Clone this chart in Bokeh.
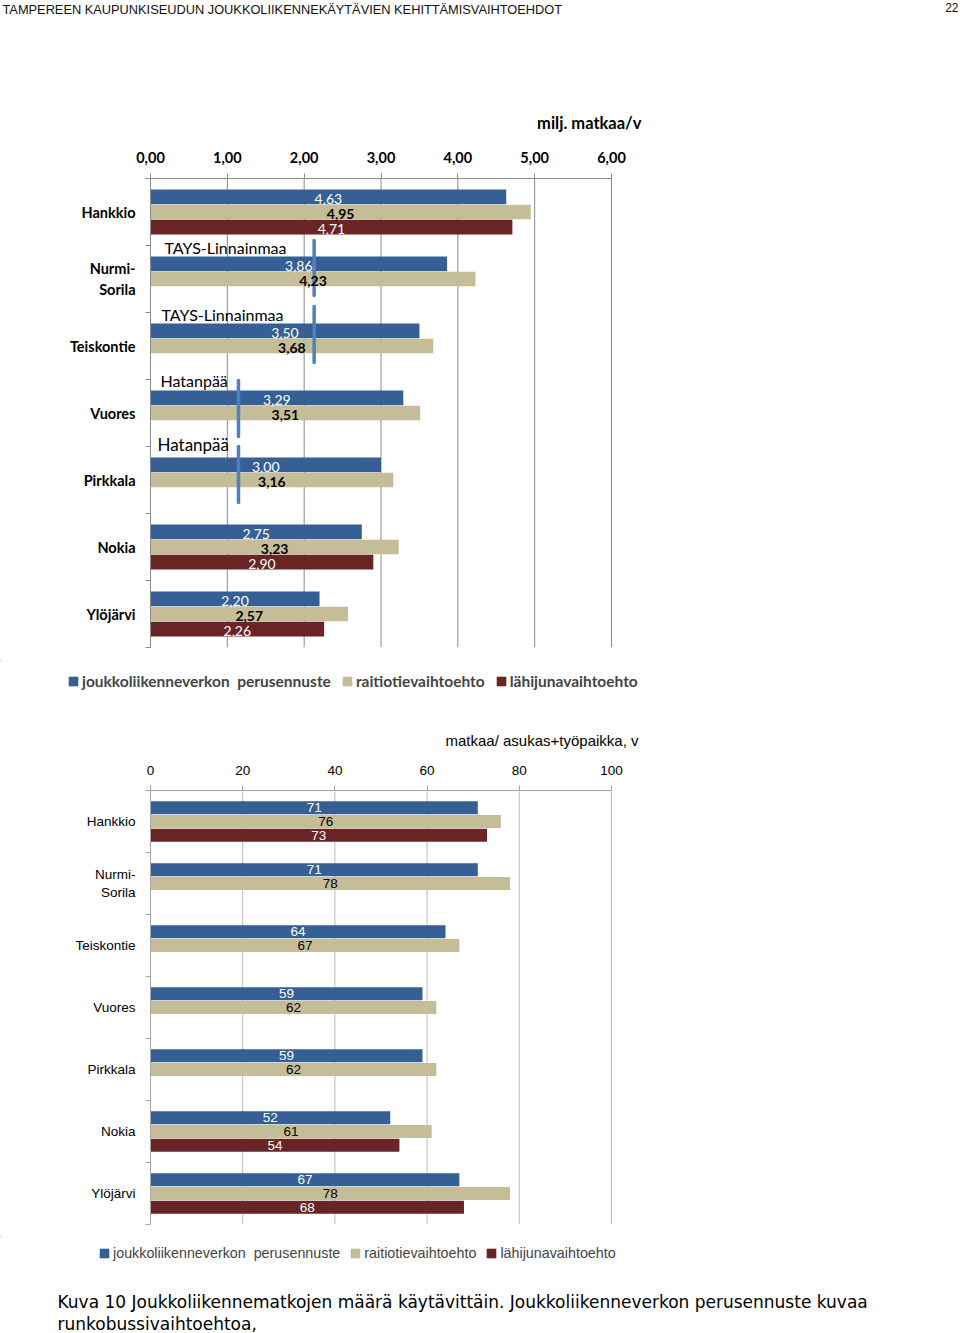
import numpy as np
from bokeh.plotting import figure
from bokeh.models import (ColumnDataSource, Range1d, FixedTicker, Label, LabelSet,
                          Legend, LegendItem)
from bokeh.layouts import column
from bokeh.embed import file_html
from bokeh.resources import INLINE
from bokeh.core.properties import value

# ---------------- data ----------------
categories = ["Hankkio", "Nurmi-Sorila", "Teiskontie", "Vuores", "Pirkkala", "Nokia", "Ylöjärvi"]
category_labels = ["Hankkio", "Nurmi-\nSorila", "Teiskontie", "Vuores", "Pirkkala", "Nokia", "Ylöjärvi"]
series_names = ["joukkoliikenneverkon  perusennuste", "raitiotievaihtoehto", "lähijunavaihtoehto"]

# million trips / year
trips_base = [4.63, 3.86, 3.50, 3.29, 3.00, 2.75, 2.20]
trips_tram = [4.95, 4.23, 3.68, 3.51, 3.16, 3.23, 2.57]
trips_train = [4.71, None, None, None, None, 2.90, 2.26]

# trips / (inhabitant + workplace) / year
rate_base = [71, 71, 64, 59, 59, 52, 67]
rate_tram = [76, 78, 67, 62, 62, 61, 78]
rate_train = [73, None, None, None, None, 54, 68]

top_ticks = [0, 1, 2, 3, 4, 5, 6]
top_tick_labels = ["0,00", "1,00", "2,00", "3,00", "4,00", "5,00", "6,00"]
bottom_ticks = [0, 20, 40, 60, 80, 100]
bottom_tick_labels = ["0", "20", "40", "60", "80", "100"]

marker_text = ["TAYS-Linnainmaa", "TAYS-Linnainmaa", "Hatanpää", "Hatanpää"]
marker_category = ["Nurmi-Sorila", "Teiskontie", "Vuores", "Pirkkala"]
marker_value = [2.13, 2.13, 1.145, 1.145]

header_text = "TAMPEREEN KAUPUNKISEUDUN JOUKKOLIIKENNEKÄYTÄVIEN KEHITTÄMISVAIHTOEHDOT"
page_number = "22"
top_unit = "milj. matkaa/v"
bottom_unit = "matkaa/ asukas+työpaikka, v"
caption_lines = ["Kuva 10 Joukkoliikennematkojen määrä käytävittäin. Joukkoliikenneverkon perusennuste kuvaa",
                 "runkobussivaihtoehtoa,"]

# ---------------- style ----------------
COL_BASE = "#365f95"
COL_TRAM = "#c5bd98"
COL_TRAIN = "#692426"
COLORS = [COL_BASE, COL_TRAM, COL_TRAIN]
COL_MARK = "#4f81bd"
W = 960
N = len(categories)
centers = [N - i - 0.5 for i in range(N)]
bounds = list(range(N + 1))


def fmt_comma(v):
    return f"{v:.2f}".replace(".", ",")


def no_align(f):
    try:
        f.frame_align = False
    except Exception:
        pass
    return f


def text_fig(height):
    """A strip whose frame covers the whole canvas; coordinates are pixels."""
    f = figure(width=W, height=height, output_backend="svg", toolbar_location=None,
               x_range=Range1d(0, W), y_range=Range1d(height, 0), min_border=0,
               x_axis_type=None, y_axis_type=None)
    f.outline_line_color = None
    f.xgrid.grid_line_color = None
    f.ygrid.grid_line_color = None
    return no_align(f)


def add_text(f, x, y, text, font, size, align="left", bold=False, color="black"):
    f.add_layout(Label(x=x, y=y, text=text, text_font=font, text_font_size=f"{size}px",
                       text_align=align, text_baseline="middle", text_color=color,
                       text_font_style="bold" if bold else "normal"))


def add_legend(f, height, x, yc, font, size, bold, spacing):
    # legend keys: one bar per series placed outside the visible strip
    rs = [f.hbar(y=[-10000], right=[1], left=0, height=1, fill_color=c, line_color=None)
          for c in COLORS]
    h = 1.2 * size
    leg = Legend(items=[LegendItem(label=n, renderers=[r]) for n, r in zip(series_names, rs)],
                 orientation="horizontal", location=(x, height - yc - h / 2),
                 glyph_width=12, glyph_height=12, label_standoff=3, spacing=spacing,
                 padding=0, margin=0, border_line_color=None, background_fill_alpha=0,
                 label_text_font=font, label_text_font_style="bold" if bold else "normal",
                 label_text_font_size=f"{size}px", label_height=10)
    f.add_layout(leg)


def make_chart(height, xmax, xend, border, ticks, tick_labels, font, cat_size, cat_bold,
               tick_size, tick_bold, grid_color, axis_color, values, offset, bar_h,
               label_fmt, label_size, label_dy, tram_bold):
    p = figure(width=W, height=height, output_backend="svg", toolbar_location=None,
               x_range=Range1d(0, xend), y_range=Range1d(0, N),
               x_axis_location="above", min_border_left=border[0],
               min_border_right=border[1], min_border_top=border[2],
               min_border_bottom=border[3])
    no_align(p)
    p.outline_line_color = None
    p.xgrid.grid_line_color = None
    p.ygrid.grid_line_color = None
    # x axis (top)
    xa = p.xaxis[0]
    xa.ticker = FixedTicker(ticks=ticks, minor_ticks=[])
    xa.major_label_overrides = {t: l for t, l in zip(ticks, tick_labels)}
    xa.bounds = (0, xmax)
    xa.axis_line_color = axis_color
    xa.major_tick_line_color = axis_color
    xa.major_tick_out = 5
    xa.major_tick_in = 0
    xa.major_label_standoff = 11
    xa.major_label_text_font = font
    xa.major_label_text_font_size = f"{tick_size}px"
    xa.major_label_text_font_style = "bold" if tick_bold else "normal"
    xa.major_label_text_color = "black"
    # vertical grid lines at the ticks
    p.segment(x0=ticks, y0=[0] * len(ticks), x1=ticks, y1=[N] * len(ticks),
              line_color=grid_color, line_width=1)
    # y axis (categories, ticks on band boundaries)
    ya = p.yaxis[0]
    ya.ticker = FixedTicker(ticks=centers, minor_ticks=bounds)
    ya.major_label_overrides = {c: l for c, l in zip(centers, category_labels)}
    ya.axis_line_color = axis_color
    ya.major_tick_line_color = None
    ya.major_tick_out = 0
    ya.major_tick_in = 0
    ya.minor_tick_line_color = axis_color
    ya.minor_tick_out = 5
    ya.minor_tick_in = 0
    ya.major_label_standoff = 10
    ya.major_label_text_font = font
    ya.major_label_text_font_size = f"{cat_size}px"
    ya.major_label_text_font_style = "bold" if cat_bold else "normal"
    ya.major_label_text_color = "black"

    for k, (vals, col, txtcol) in enumerate(zip(values, COLORS, ["white", "black", "white"])):
        ys, xs, labs = [], [], []
        for i, v in enumerate(vals):
            if v is None:
                continue
            ys.append(centers[i] + offset * (1 - k))
            xs.append(v)
            labs.append(label_fmt(v))
        src = ColumnDataSource(dict(y=ys, right=xs, mid=[x / 2 for x in xs],
                                    ylab=[y - label_dy for y in ys], lab=labs))
        p.hbar(y="y", left=0, right="right", height=bar_h, source=src,
               fill_color=col, line_color=None)
        p.add_layout(LabelSet(x="mid", y="ylab", text="lab", source=src, text_align="center",
                              text_baseline="middle", text_color=txtcol,
                              text_font=value(font), text_font_size=value(f"{label_size}px"),
                              text_font_style="bold" if (k == 1 and tram_bold) else "normal"))
    return p


# ---------------- header strip (page y 0..140) ----------------
fA = text_fig(140)
add_text(fA, 2, 9, header_text, "Liberation Sans", 12.8, color="#111111")
add_text(fA, 958, 7, page_number, "Liberation Sans", 12, align="right", color="#111111")
add_text(fA, 641, 122, top_unit, "Lato", 16.5, align="right", bold=True)

# ---------------- top chart (page y 140..660) ----------------
ux1 = 461 / 6.0
p1 = make_chart(520, 6, 6 + 9 / ux1, (150, 340, 38, 13), top_ticks, top_tick_labels, "Lato",
                14.5, True, 14.5, True, "#8a8a8a", "#8a8a8a",
                [trips_base, trips_tram, trips_train], 0.226, 0.218,
                fmt_comma, 14, 2 / 67, True)

# route markers (thin blue bars with route names)
marker_span = [(0.575, -0.246), (0.59, -0.246), (0.485, -0.35), (0.50, -0.336)]
marker_text_pos = [(164, 0.47, 16), (161, 0.47, 16), (160, 0.485, 16), (157, 0.53, 17)]
for txt, cat, mv, (top, bot), (tx, tdy, fs) in zip(marker_text, marker_category, marker_value,
                                                   marker_span, marker_text_pos):
    c = centers[categories.index(cat)]
    p1.segment(x0=[mv], y0=[c + bot], x1=[mv], y1=[c + top], line_color=COL_MARK,
               line_width=3.5, line_cap="round")
    p1.add_layout(Label(x=(tx - 150) / ux1, y=c + tdy, text=txt, text_font="Lato",
                        text_font_size=f"{fs}px", text_baseline="middle", text_color="black"))

# ---------------- legend + unit strip (page y 660..760) ----------------
fB = text_fig(100)
add_legend(fB, 100, 67, 21, "Lato", 15.5, True, 10)
add_text(fB, 638, 80, bottom_unit, "Liberation Sans", 15, align="right")

# ---------------- bottom chart (page y 760..1236) ----------------
p2 = make_chart(476, 100, 100 + 9 / 4.6, (150, 340, 30, 12), bottom_ticks, bottom_tick_labels,
                "Liberation Sans", 13.5, False, 13.5, False, "#bdbdbd", "#a6a6a6",
                [rate_base, rate_tram, rate_train], 0.222, 0.21,
                lambda v: f"{v:d}", 13.5, 0.0, False)

# ---------------- legend + caption strip (page y 1236..1333) ----------------
fE = text_fig(97)
add_legend(fE, 97, 98, 16, "Liberation Sans", 14.3, False, 9)
add_text(fE, 57, 65, caption_lines[0], "DejaVu Sans", 17)
add_text(fE, 57, 87, caption_lines[1], "DejaVu Sans", 17)

layout = column(fA, p1, fB, p2, fE, spacing=0)
open("out.html", "w").write(file_html(layout, INLINE))
